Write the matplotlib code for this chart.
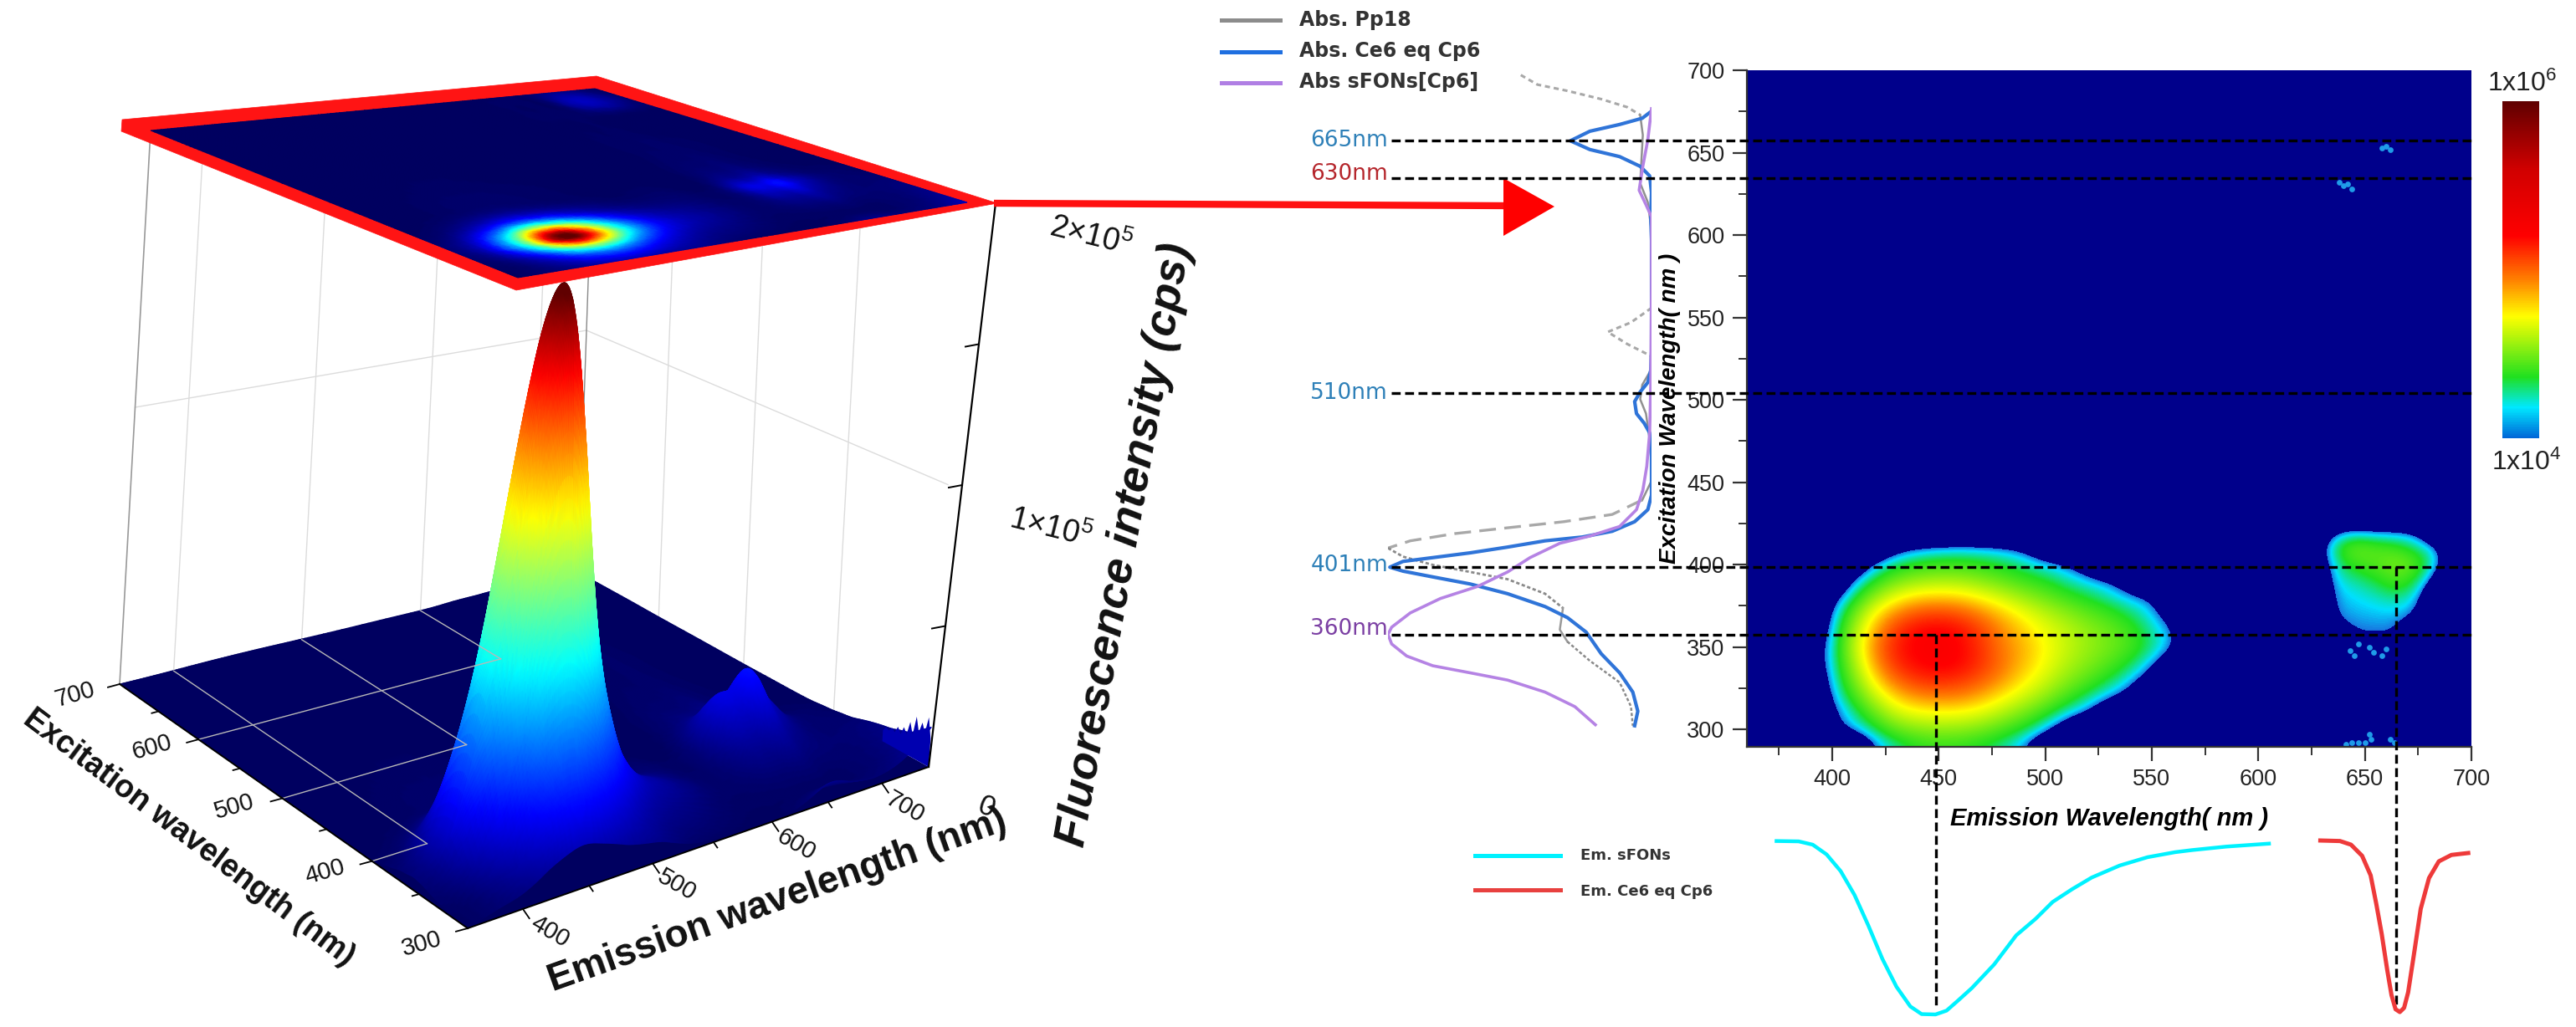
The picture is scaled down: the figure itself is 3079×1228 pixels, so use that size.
import numpy as np
import matplotlib
matplotlib.use('Agg')
import matplotlib.pyplot as plt
from matplotlib.colors import LinearSegmentedColormap, Normalize
from matplotlib.cm import ScalarMappable
from matplotlib.patches import Polygon
from matplotlib.ticker import MultipleLocator
from matplotlib.tri import Triangulation, UniformTriRefiner

plt.rcParams['font.family'] = ['Liberation Sans', 'DejaVu Sans']
plt.rcParams['mathtext.default'] = 'regular'

W, H = 3079, 1228

# --- 3D surface, values in 1e5 cps
em_3d = [360, 380, 400, 415, 425, 435, 445, 455, 465, 475, 490, 510, 540, 580, 610, 625, 640, 650, 660, 670, 680, 695, 720, 745]
ex_3d = [300, 310, 320, 330, 340, 350, 360, 370, 380, 390, 400, 410, 420, 440, 480, 540, 620, 660, 700]
main_em = [.03, .12, .4, .8, 1.18, 1.4, 1.42, 1.22, .92, .6, .28, .09, .03, .01, .005, .005, .005, .005, .005, .005, .005, .005, .005, .005]
main_ex = [.03, .07, .15, .33, .62, .92, 1, .85, .55, .28, .12, .05, .02, .005, .002, .001, .001, .001, 0]
skirt_em = [.02, .1, .4, .7, .85, .95, 1, 1, .95, .85, .65, .4, .2, .06, .03, .02, .02, .02, .02, .02, .02, .02, .02, .02]
skirt_ex = [.05, .3, .5, .65, .8, .9, .9, .8, .65, .45, .28, .16, .08, .03, .02, .01, .01, .01, .01]
second_em = [0, 0, 0, 0, 0, 0, 0, 0, 0, 0, 0, 0, 0, .01, .03, .14, .2, .21, .26, .2, .13, .06, .02, .01]
second_ex = [0, 0, .02, .05, .1, .18, .28, .42, .62, .85, 1, .8, .5, .22, .1, .06, .04, .035, .03]
# rise of the front edge and of the right edge
front_em = [0, .02, .03, .05, .06, .07, .075, .07, .065, .06, .055, .045, .01, 0, .005, .02, .05, .065, .06, .045, .035, .03, .06, .14]
front_ex = [1, .35, 0, 0, 0, 0, 0, 0, 0, 0, 0, 0, 0, 0, 0, 0, 0, 0, 0]
rise_em = [0, 0, 0, 0, 0, 0, 0, 0, 0, 0, 0, 0, 0, 0, 0, 0, 0, 0, 0, 0, 0, .15, .4, 1]
rise_ex = [0, .06, .08, .065, .05, .04, .03, .02, .01, .005, 0, 0, 0, 0, 0, 0, 0, 0, 0]
# only on the projected top plate
corner_em = [0, 0, 0, 0, 0, 0, 0, 0, 0, 0, 0, 0, 0, 0, 0, 0, 0, 0, 0, 0, .05, .13, .11, .02]
corner_ex = [0, 0, 0, 0, 0, 0, 0, 0, 0, 0, 0, 0, 0, 0, 0, 0, .1, 1, .4]
fringe_ex = [300, 303, 306, 309, 312, 315, 318, 321, 324, 327, 330, 333, 336, 339, 342, 345, 348]
fringe_z = [.1, .17, .11, .14, .1, .15, .08, .12, .07, .09, .06, .08, .055, .065, .05, .055, .04]

# --- 2D map, log10(cps)
blob_em = [390, 400, 410, 420, 430, 440, 450, 460, 470, 480, 490, 500, 510, 520, 530, 540, 550, 560, 570]
blob_ex = [290, 300, 310, 320, 330, 340, 350, 360, 370, 380, 390, 400, 410, 420]
blob_lv = [
    [3.5, 3.5, 3.6, 4.0, 4.15, 4.25, 4.28, 4.27, 4.22, 4.15, 4.02, 3.7, 3.5, 3.5, 3.5, 3.5, 3.5, 3.5, 3.5],
    [3.5, 3.9, 4.05, 4.2, 4.38, 4.45, 4.48, 4.47, 4.42, 4.32, 4.22, 4.06, 3.8, 3.5, 3.5, 3.5, 3.5, 3.5, 3.5],
    [3.5, 3.95, 4.15, 4.4, 4.62, 4.7, 4.72, 4.71, 4.66, 4.55, 4.42, 4.28, 4.12, 4.0, 3.7, 3.5, 3.5, 3.5, 3.5],
    [3.6, 4.03, 4.3, 4.6, 4.82, 4.92, 4.95, 4.94, 4.86, 4.75, 4.62, 4.48, 4.32, 4.18, 4.05, 3.9, 3.5, 3.5, 3.5],
    [3.7, 4.08, 4.42, 4.78, 5.0, 5.1, 5.13, 5.1, 5.02, 4.9, 4.76, 4.62, 4.47, 4.35, 4.22, 4.08, 3.85, 3.5, 3.5],
    [3.8, 4.1, 4.52, 4.9, 5.12, 5.2, 5.23, 5.2, 5.1, 4.97, 4.83, 4.7, 4.56, 4.45, 4.35, 4.22, 4.05, 3.75, 3.5],
    [3.8, 4.1, 4.58, 4.95, 5.15, 5.22, 5.25, 5.2, 5.1, 4.95, 4.85, 4.72, 4.6, 4.5, 4.42, 4.33, 4.18, 4.03, 3.6],
    [3.7, 4.07, 4.52, 4.88, 5.1, 5.2, 5.22, 5.18, 5.07, 4.92, 4.8, 4.68, 4.58, 4.48, 4.4, 4.3, 4.15, 4.02, 3.6],
    [3.6, 4.02, 4.4, 4.75, 4.95, 5.05, 5.08, 5.04, 4.94, 4.82, 4.7, 4.58, 4.48, 4.38, 4.3, 4.2, 4.08, 3.85, 3.5],
    [3.5, 3.9, 4.2, 4.5, 4.7, 4.8, 4.82, 4.8, 4.72, 4.62, 4.5, 4.4, 4.3, 4.22, 4.14, 4.05, 4.0, 3.6, 3.5],
    [3.5, 3.6, 4.02, 4.25, 4.42, 4.5, 4.53, 4.52, 4.46, 4.38, 4.3, 4.24, 4.15, 4.08, 4.02, 3.8, 3.5, 3.5, 3.5],
    [3.5, 3.5, 3.7, 4.05, 4.2, 4.27, 4.3, 4.3, 4.27, 4.22, 4.16, 4.08, 4.02, 3.8, 3.5, 3.5, 3.5, 3.5, 3.5],
    [3.5, 3.5, 3.5, 3.6, 3.9, 4.0, 4.05, 4.07, 4.06, 4.03, 3.95, 3.7, 3.5, 3.5, 3.5, 3.5, 3.5, 3.5, 3.5],
    [3.5, 3.5, 3.5, 3.5, 3.5, 3.5, 3.5, 3.5, 3.5, 3.5, 3.5, 3.5, 3.5, 3.5, 3.5, 3.5, 3.5, 3.5, 3.5],
]
small_em = [625, 635, 645, 655, 665, 675, 685, 695]
small_ex = [340, 350, 360, 370, 380, 390, 400, 410, 420, 430]
small_lv = [
    [3.5, 3.5, 3.5, 3.8, 3.6, 3.5, 3.5, 3.5],
    [3.5, 3.5, 3.98, 3.9, 3.95, 3.5, 3.5, 3.5],
    [3.5, 3.9, 4.0, 4.01, 4.01, 3.7, 3.5, 3.5],
    [3.5, 4.01, 4.05, 4.06, 4.07, 4.0, 3.5, 3.5],
    [3.5, 4.04, 4.08, 4.12, 4.18, 4.08, 3.5, 3.5],
    [3.5, 4.08, 4.15, 4.22, 4.35, 4.22, 3.8, 3.5],
    [3.6, 4.12, 4.3, 4.35, 4.45, 4.35, 4.05, 3.5],
    [3.7, 4.2, 4.42, 4.35, 4.3, 4.18, 4.02, 3.5],
    [3.5, 3.95, 4.05, 4.0, 4.0, 3.95, 3.5, 3.5],
    [3.5, 3.5, 3.5, 3.5, 3.5, 3.5, 3.5, 3.5],
]
speck_em = [638, 640, 642, 644, 658, 660, 662, 652, 653, 650, 647, 644, 641, 662, 664, 643, 645, 647, 652, 654, 658, 660]
speck_ex = [632, 630, 631, 628, 653, 654, 652, 297, 294, 292, 292, 292, 291, 294, 292, 348, 345, 352, 350, 347, 345, 349]

# --- absorption curves (excitation nm, relative absorbance)
blue_ex = [302.3, 311.1, 322.7, 334.4, 346, 359.1, 367.9, 374.6, 382.4, 388.3, 392.6, 396.1, 398.5, 402, 404.3, 407.2, 410.7, 414.5, 416.8, 420.3, 426.1, 433.4, 442.2, 465.5, 480, 485.9, 491.7, 499, 504.8, 510.6, 517.9, 529.6, 567.4, 596.6, 611.1, 625.7, 635.9, 641.7, 647.6, 651.9, 657.2, 663, 667.1, 670.9, 675.2]
blue_ab = [.064, .052, .071, .121, .191, .248, .319, .404, .546, .688, .83, .943, .993, .943, .83, .688, .546, .404, .262, .149, .064, .014, 0, 0, .007, .028, .057, .064, .043, .014, .003, 0, 0, 0, .003, 0, .007, .043, .121, .234, .308, .234, .121, .035, 0]
purple_ex = [302.9, 313.9, 322.7, 330, 334.4, 338.7, 344.6, 351.9, 357.7, 362.1, 370.8, 379.5, 386.8, 395.6, 404.3, 413, 417.4, 423.2, 433.4, 445.1, 459.7, 480, 509.2, 567.4, 611.1, 618.4, 627.2, 641.7, 657.8, 676.7]
purple_ab = [.213, .291, .404, .546, .688, .83, .929, .986, 1, .986, .915, .801, .66, .546, .461, .348, .234, .121, .057, .033, .018, .007, .003, 0, 0, .021, .047, .033, .014, 0]
grey_ex_a = [697.1, 691.3, 687.5, 682.5, 677.6, 672.9]
grey_ab_a = [.496, .433, .319, .191, .092, .043]
grey_ex_b = [672.9, 660.7, 646.1, 631.5, 619.9, 602.4, 561.6]
grey_ab_b = [.043, .033, .038, .043, .014, 0, 0]
grey_ex_c = [555.8, 547, 541.2, 533.9, 526.7]
grey_ab_c = [0, .078, .166, .092, .003]
grey_ex_d = [526.7, 517.9, 509.2, 500.4, 491.7, 471.3, 450.9, 439.3]
grey_ab_d = [.003, .003, .035, .043, .021, .003, 0, .035]
grey_ex_e = [439.3, 430.5, 426.1, 422.4, 418.9, 414.5, 410.1]
grey_ab_e = [.035, .149, .333, .546, .745, .915, 1]
grey_ex_f = [410.1, 404.9, 399.9, 395.6, 391.2, 382.4, 373.7]
grey_ab_f = [1, .943, .83, .688, .546, .404, .336]
grey_ex_g = [373.7, 360.6, 353.3]
grey_ab_g = [.336, .348, .319]
grey_ex_h = [353.3, 341.7, 328.6, 314, 302.3]
grey_ab_h = [.319, .234, .121, .078, .071]

# --- emission curves
cyan_em = [373.9, 384.3, 390.9, 397.4, 404, 410.5, 417, 423.6, 430.2, 436.7, 442, 448.5, 453.7, 459, 465.5, 476, 486.4, 495.6, 503.5, 512.6, 521.8, 534.9, 548, 561, 569, 585, 605]
cyan_i = [.003, .005, .024, .08, .176, .313, .489, .681, .841, .954, .998, 1, .978, .921, .849, .713, .545, .449, .353, .28, .213, .144, .096, .067, .055, .035, .018]
red_em = [629.1, 638.3, 643.5, 648.7, 652.7, 655.3, 657.9, 660.5, 662.5, 664.4, 666.4, 668.4, 670.3, 672.9, 676.2, 680.1, 684.7, 690.6, 698.5]
red_i = [0, .003, .024, .088, .2, .361, .537, .745, .889, .97, .986, .962, .873, .665, .393, .216, .12, .083, .072]

# dashed guide positions
guide_ex = [657.4, 634.3, 503.9, 398.6, 357.5]
peak_labels = ['665nm', '630nm', '510nm', '401nm', '360nm']
peak_colors = ['#2e80b8', '#b5262c', '#2e80b8', '#2e80b8', '#7b3fa3']
peak_label_ex = [657.4, 637, 503.9, 399.5, 361]

fig = plt.figure(figsize=(W / 100, H / 100), dpi=100)


def px_axes(l, t, r, b):
    return fig.add_axes([l / W, 1 - b / H, (r - l) / W, (b - t) / H])


# ---------- 3D part, projected by hand on a pixel axes
ax = fig.add_axes([0, 0, 1, 1])
ax.set_xlim(0, W)
ax.set_ylim(H, 0)
ax.axis('off')


def homography(c):
    # c: front, right, back, left -> unit square corners
    src = [(0, 0), (1, 0), (1, 1), (0, 1)]
    A, b = [], []
    for (u, v), (x, y) in zip(src, c):
        A.append([u, v, 1, 0, 0, 0, -u * x, -v * x])
        A.append([0, 0, 0, u, v, 1, -u * y, -v * y])
        b += [x, y]
    return np.append(np.linalg.solve(np.array(A, float), np.array(b, float)), 1).reshape(3, 3)


floor_h = homography([(559, 1110), (1110, 917), (691, 684), (143, 818)])
plate_h = homography([(619, 332), (1156, 242), (711, 106), (180, 156)])
E0, E1, X0, X1 = 360, 745, 300, 700


def proj(h, em, ex):
    u = (np.asarray(em, float) - E0) / (E1 - E0)
    v = (np.asarray(ex, float) - X0) / (X1 - X0)
    d = h[2, 0] * u + h[2, 1] * v + h[2, 2]
    return (h[0, 0] * u + h[0, 1] * v + h[0, 2]) / d, (h[1, 0] * u + h[1, 1] * v + h[1, 2]) / d


def proj3(em, ex, w):
    fx, fy = proj(floor_h, em, ex)
    px, py = proj(plate_h, em, ex)
    return fx + (px - fx) * w, fy + (py - fy) * w


jet3d = LinearSegmentedColormap.from_list('jet3d', [
    (0, '#000060'), (.13, '#0000ff'), (.36, '#00ffff'), (.49, '#7fff7f'),
    (.62, '#ffff00'), (.86, '#ff0000'), (1, '#600000')])
ZMAX = 1.82

Z = (np.outer(main_ex, main_em) + .45 * np.outer(skirt_ex, skirt_em) + np.outer(second_ex, second_em)
     + np.outer(front_ex, front_em) + np.outer(rise_ex, rise_em))
gx, gy = np.meshgrid(em_3d, ex_3d)
tri = Triangulation(gx.ravel().astype(float), gy.ravel().astype(float))
refiner = UniformTriRefiner(tri)
fine, fz = refiner.refine_field(Z.ravel(), subdiv=3)
fz = np.clip(fz, 0, None)
_, plate_z = refiner.refine_field((Z + np.outer(corner_ex, corner_em)).ravel(), subdiv=3)
plate_z = np.clip(plate_z, 0, None)

# back walls and their grid
wall = '#dcdcdc'
wall_em = [400, 500, 600, 700]
wall_ex = [400, 500, 600]
for e in wall_em:
    x, y = proj3([e, e], [X1, X1], np.array([0, 1.]))
    ax.plot(x, y, color=wall, lw=1)
for e in wall_ex:
    x, y = proj3([E1, E1], [e, e], np.array([0, 1.]))
    ax.plot(x, y, color=wall, lw=1)
x, y = proj3([E0, E1, E1], [X1, X1, X0], .5)
ax.plot(x, y, color=wall, lw=1)
x, y = proj3([E0, E0], [X1, X1], np.array([0, 1.]))
ax.plot(x, y, color='#999999', lw=1.2)
x, y = proj3([E1, E1], [X1, X1], np.array([0, 1.]))
ax.plot(x, y, color='#888888', lw=1)

x, y = proj(floor_h, [E0, E1, E1, E0], [X0, X0, X1, X1])
ax.add_patch(Polygon(np.c_[x, y], fc='#000060', ec='none', zorder=2.5))

# surface, painted back to front
sx, sy = proj3(fine.x, fine.y, fz / 2)
_, depth = proj(floor_h, fine.x, fine.y)
order = np.argsort(depth[fine.triangles].mean(axis=1))
ax.tripcolor(sx, sy, fine.triangles[order], fz, shading='gouraud', cmap=jet3d, vmin=0, vmax=ZMAX, zorder=3)

# jagged noise at the right edge
top_x, top_y = proj3([E1] * len(fringe_ex), fringe_ex, np.array(fringe_z) / 2)
low_x, low_y = proj3([E1] * len(fringe_ex), fringe_ex, 0)
ax.fill(np.r_[top_x, low_x[::-1]], np.r_[top_y, low_y[::-1]], color='#0000b0', lw=0, zorder=3.2)

# floor grid stops in steps
for e in [400, 500, 600]:
    x, y = proj(floor_h, [e, e], [X1, e])
    ax.plot(x, y, color='#b8b8b8', lw=1, zorder=3.5)
    x, y = proj(floor_h, [E0, e], [e, e])
    ax.plot(x, y, color='#b8b8b8', lw=1, zorder=3.5)

# floor axes and ticks
x, y = proj(floor_h, [E0, E0], [X1, X0])
ax.plot(x, y, color='black', lw=1.4, zorder=3.5)
x, y = proj(floor_h, [E0, E1], [X0, X0])
ax.plot(x, y, color='black', lw=1.4, zorder=3.5)
for e in np.arange(300, 701, 50):
    x, y = proj(floor_h, E0, e)
    ln = 14 if e % 100 == 0 else 8
    ax.plot([x, x - ln], [y, y + ln * .27], color='black', lw=1.3, zorder=3.5)
for e in np.arange(400, 701, 50):
    x, y = proj(floor_h, e, X0)
    ln = 14 if e % 100 == 0 else 8
    ax.plot([x, x + ln * .55], [y, y + ln * .8], color='black', lw=1.3, zorder=3.5)

# z axis
zx = np.array([1110, 1190.])
zy = np.array([917, 243.])
ax.plot(zx, zy, color='black', lw=1.6, zorder=3.5)
for w in [.25, .5, .75]:
    tx = zx[0] + (zx[1] - zx[0]) * w
    ty = zy[0] + (zy[1] - zy[0]) * w
    ax.plot([tx - 16, tx], [ty + 3, ty], color='black', lw=1.4, zorder=3.5)

# red plate on top
ax.add_patch(Polygon([(617, 347), (1192, 243), (713, 91), (146, 143), (145, 157)], fc='#ff1414', ec='#ff1414', lw=.5, zorder=4))
px_, py_ = proj(plate_h, fine.x, fine.y)
ax.tripcolor(px_, py_, fine.triangles, plate_z, shading='gouraud', cmap=jet3d, vmin=0, vmax=ZMAX, zorder=5)

# arrow across to the map
ax.plot([1188, 1800], [243, 246], color='#ff1010', lw=6, solid_capstyle='butt', zorder=5)
ax.add_patch(Polygon([(1797, 213), (1797, 282), (1858, 247)], fc='#ff0000', ec='none', zorder=6))

# 3D texts
tk = dict(fontsize=21, ha='center', va='center', rotation_mode='anchor', color='#111111', zorder=7)
for lab, tx, ty in zip(['700', '600', '500', '400', '300'], [90, 182, 280, 388, 504], [831, 894, 965, 1043, 1129]):
    ax.text(tx, ty, lab, rotation=16, **tk)
for lab, tx, ty in zip(['400', '500', '600', '700'], [657, 809, 952, 1082], [1114, 1058, 1010, 965]):
    ax.text(tx, ty, lab, rotation=-30, **tk)
ax.text(1179, 965, '0', rotation=-20, fontsize=25, ha='center', va='center', rotation_mode='anchor', color='#111111', zorder=7)
lb = dict(ha='center', va='center', rotation_mode='anchor', color='#111111', zorder=7, fontweight='bold')
ax.text(226, 1002, 'Excitation wavelength (nm)', rotation=-37, fontsize=27, **lb)
ax.text(929, 1077, 'Emission wavelength (nm)', rotation=19.6, fontsize=33, **lb)
ax.text(1345, 652, 'Fluorescence intensity (cps)', rotation=80, fontsize=39, style='italic', **lb)
ax.text(1304, 283, '2×10$^5$', rotation=-14, fontsize=27, ha='center', va='center', rotation_mode='anchor', color='#111111')
ax.text(1256, 632, '1×10$^5$', rotation=-14, fontsize=27, ha='center', va='center', rotation_mode='anchor', color='#111111')

# ---------- absorption panel
ab = px_axes(1659, 84, 1974, 893)
ab.set_xlim(1, 0)
ab.set_ylim(289.5, 700)
ab.axis('off')
g = '#a8a8a8'
ab.plot(grey_ab_a, grey_ex_a, color=g, lw=2.2, ls=(0, (2, 1.5)))
ab.plot(grey_ab_b, grey_ex_b, color='#909090', lw=1.8)
ab.plot(grey_ab_c, grey_ex_c, color=g, lw=2.2, ls=(0, (2, 1.5)))
ab.plot(grey_ab_d, grey_ex_d, color='#909090', lw=1.8)
ab.plot(grey_ab_e, grey_ex_e, color=g, lw=2.4, ls=(0, (6, 3)))
ab.plot(grey_ab_f, grey_ex_f, color='#8a8a8a', lw=2, ls=(0, (1.5, 1)))
ab.plot(grey_ab_g, grey_ex_g, color='#999999', lw=1.8)
ab.plot(grey_ab_h, grey_ex_h, color='#8a8a8a', lw=1.8, ls=(0, (1.5, 1)))
ab.plot(blue_ab, blue_ex, color='#2f74d8', lw=3)
ab.plot(purple_ab, purple_ex, color='#b583e4', lw=2.6)
for lab, col, e in zip(peak_labels, peak_colors, peak_label_ex):
    ab.text(1.0, e, lab, color=col, fontsize=19, family='DejaVu Sans', ha='right', va='center', clip_on=False)

# ---------- 2D map
bar_colors = LinearSegmentedColormap.from_list('bar', [
    (0, '#0068d8'), (.09, '#00e8ff'), (.18, '#20e020'), (.36, '#ffff00'),
    (.47, '#ff8000'), (.6, '#ff0000'), (.8, '#d00000'), (1, '#600000')])
heat_colors = LinearSegmentedColormap.from_list('heat', [
    (0, '#1878e0'), (.04, '#00e0ff'), (.12, '#20e020'), (.36, '#ffff00'),
    (.47, '#ff8000'), (.6, '#ff0000'), (.8, '#d00000'), (1, '#600000')])
heat_colors.set_under('#00008b')
norm = Normalize(4, 6)

hm = px_axes(2088, 84, 2954, 893)
hm.set_facecolor('#00008b')
hm.imshow(blob_lv, extent=[385, 575, 285, 425], origin='lower', aspect='auto', cmap=heat_colors, norm=norm,
          interpolation='bicubic', interpolation_stage='data')
hm.imshow(small_lv, extent=[620, 700, 335, 435], origin='lower', aspect='auto', cmap=heat_colors, norm=norm,
          interpolation='bicubic', interpolation_stage='data')
hm.scatter(speck_em, speck_ex, s=24, marker='o', color='#1f9be8', linewidths=0)
hm.set_xlim(360, 700)
hm.set_ylim(289.5, 700)
hm.xaxis.set_major_locator(MultipleLocator(50))
hm.xaxis.set_minor_locator(MultipleLocator(25))
hm.yaxis.set_major_locator(MultipleLocator(50))
hm.yaxis.set_minor_locator(MultipleLocator(25))
hm.tick_params(which='major', length=12, width=1.6, labelsize=19.5, color='#333333', labelcolor='#222222', pad=7)
hm.tick_params(which='minor', length=7, width=1.4, color='#333333')
for s in ['top', 'right']:
    hm.spines[s].set_visible(False)
for s in ['left', 'bottom']:
    hm.spines[s].set_linewidth(1.6)
    hm.spines[s].set_color('#333333')
hm.set_xlabel('Emission Wavelength( nm )', fontsize=21, fontweight='bold', style='italic', labelpad=14)
fig.text(1996 / W, 1 - 488 / H, 'Excitation Wavelength( nm )', fontsize=20, fontweight='bold', style='italic',
         rotation=90, ha='center', va='center')

# guides, given in the map's own data units and left unclipped
dash = dict(color='black', lw=2.4, ls=(0, (3.2, 1.6)), clip_on=False, zorder=6)
for e in guide_ex:
    hm.plot([193, 700], [e, e], **dash)
hm.plot([448.7, 448.7], [guide_ex[4], 130], **dash)
hm.plot([664.7, 664.7], [guide_ex[3], 130], **dash)

# colour bar
cax = px_axes(2991, 121, 3035, 524)
cb = fig.colorbar(ScalarMappable(norm, bar_colors), cax=cax)
cb.set_ticks([])
cb.outline.set_visible(False)
fig.text(3015 / W, 1 - 100 / H, '1x10$^6$', fontsize=23, ha='center', va='center', color='#222222')
fig.text(3020 / W, 1 - 553 / H, '1x10$^4$', fontsize=23, ha='center', va='center', color='#222222')

# ---------- emission curves under the map
em = px_axes(2088, 1005, 2954, 1213)
em.set_xlim(360, 700)
em.set_ylim(1, 0)
em.axis('off')
em.plot(cyan_em, cyan_i, color='#00f2ff', lw=3.2, clip_on=False)
em.plot(red_em, red_i, color='#ee3a3a', lw=3.6, clip_on=False)

# ---------- legends
ax.plot([1460, 1530], [24, 24], color='#8c8c8c', lw=3.6, zorder=7)
ax.plot([1460, 1530], [62, 62], color='#1f6fe0', lw=3.6, zorder=7)
ax.plot([1460, 1530], [99, 99], color='#b07fe4', lw=3.6, zorder=7)
lg = dict(fontsize=17, fontweight='bold', family='DejaVu Sans', color='#333333', va='center', zorder=7)
ax.text(1553, 24, 'Abs. Pp18', **lg)
ax.text(1553, 61, 'Abs. Ce6 eq Cp6', **lg)
ax.text(1553, 98, 'Abs sFONs[Cp6]', **lg)
ax.plot([1763, 1865], [1023, 1023], color='#00f2ff', lw=3.6, zorder=7)
ax.plot([1763, 1865], [1064, 1064], color='#e8413f', lw=3.6, zorder=7)
lg['fontsize'] = 13
ax.text(1889, 1023, 'Em. sFONs', **lg)
ax.text(1889, 1066, 'Em. Ce6 eq Cp6', **lg)

fig.savefig('out.png', dpi=100)
